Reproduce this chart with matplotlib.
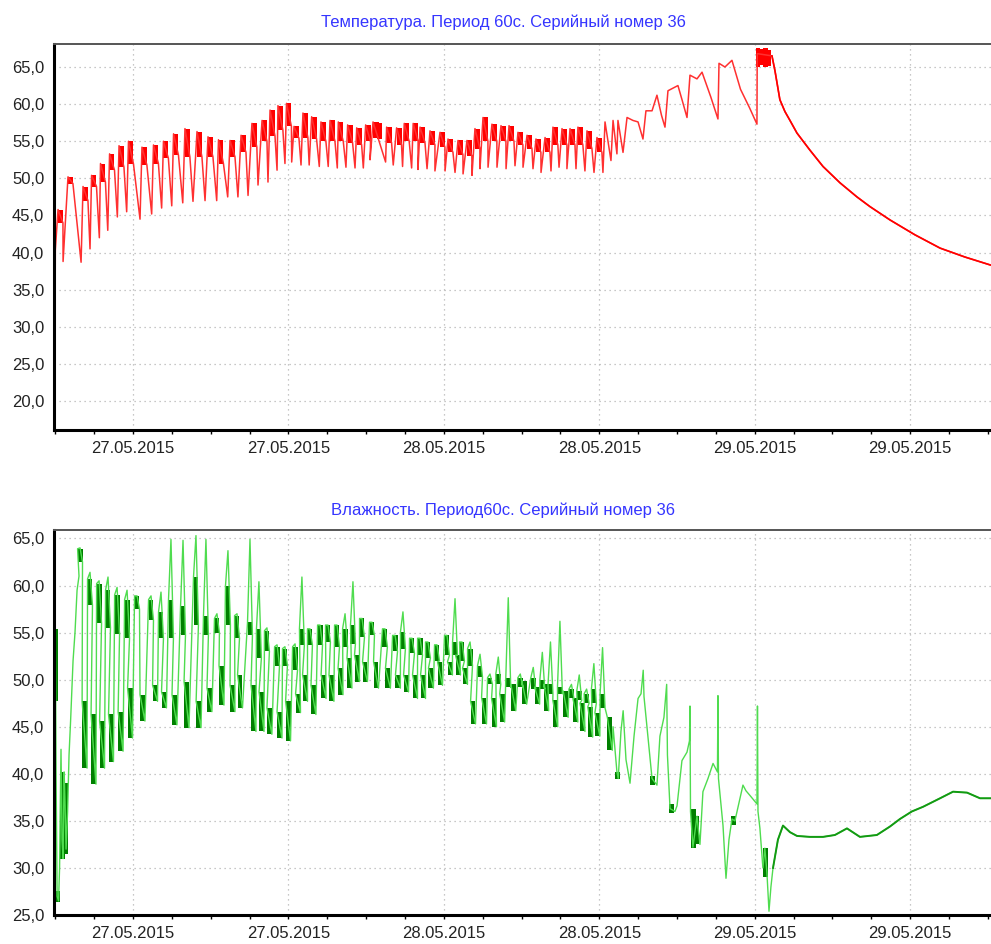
import matplotlib.pyplot as plt
from matplotlib.ticker import MultipleLocator, FuncFormatter
from datetime import datetime, timedelta

plt.rcParams['font.family'] = ['Liberation Sans', 'DejaVu Sans']

# time axis: hours from 27.05.2015 00:00
start = datetime(2015, 5, 27)
x_range = [-6.10, 66.24]

title_temp = 'Температура. Период 60с. Серийный номер 36'
title_hum = 'Влажность. Период60с. Серийный номер 36'

# ---------------- temperature ----------------
temp_lead_h = [-6.08, -6.04, -6.00, -5.90]
temp_lead_v = [16.8, 17.5, 40.3, 43.0]

# one row per heating cycle: top block start, block top, block bottom, dip time, dip value
tc_peak_h = [-5.79, -5.02, -3.86, -3.20, -2.51, -1.81, -1.08, -0.35, 0.69, 1.58,
             2.35, 3.13, 4.01, 4.94, 5.79, 6.60, 7.49, 8.34, 9.18, 9.96,
             10.58, 11.19, 11.85, 12.43, 13.12, 13.79, 14.51, 15.21, 15.85, 16.57,
             17.27, 17.96, 18.53, 19.58, 20.35, 20.94, 21.63, 22.16, 22.93, 23.70,
             24.32, 25.09, 25.78, 26.40, 27.02, 27.71, 28.41, 29.03, 29.72, 30.42,
             31.11, 31.81, 32.42, 33.12, 33.74, 34.35, 35.05, 35.82]
tc_hi = [45.8, 50.2, 48.9, 50.4, 52.0, 53.3, 54.4, 55.0, 54.2, 54.5,
         55.0, 56.0, 56.7, 56.3, 55.6, 55.2, 55.1, 55.8, 57.4, 57.8,
         59.2, 59.8, 60.1, 57.0, 58.8, 58.3, 57.6, 57.8, 57.6, 57.2,
         56.8, 57.2, 57.6, 56.9, 56.8, 57.4, 57.4, 56.9, 56.4, 56.2,
         55.3, 55.1, 55.1, 56.7, 58.2, 57.3, 57.1, 57.1, 56.2, 55.8,
         55.3, 55.5, 56.9, 56.7, 56.7, 56.9, 56.4, 55.5]
tc_lo = [44.0, 49.3, 47.0, 48.9, 49.5, 51.1, 51.5, 52.0, 51.8, 52.0,
         52.7, 53.1, 52.9, 52.9, 52.9, 52.0, 52.9, 53.5, 54.2, 55.0,
         55.7, 56.5, 57.0, 55.4, 55.5, 55.3, 55.0, 55.0, 55.0, 54.8,
         54.5, 55.0, 55.5, 54.8, 54.5, 55.0, 55.0, 54.8, 54.5, 54.2,
         53.5, 53.2, 53.0, 54.0, 55.0, 55.0, 55.0, 55.0, 54.5, 54.0,
         53.5, 53.5, 54.5, 54.5, 54.5, 54.5, 54.0, 53.5]
tc_dip_h = [-5.40, -4.01, -3.32, -2.60, -1.95, -1.21, -0.49, 0.54, 1.44, 2.21,
            2.99, 3.84, 4.63, 5.56, 6.46, 7.31, 8.10, 8.88, 9.65, 10.42,
            11.12, 11.73, 12.25, 12.97, 13.60, 14.38, 15.07, 15.77, 16.44, 17.14,
            17.78, 18.30, 19.50, 20.09, 20.81, 21.51, 22.00, 22.70, 23.31, 24.09,
            24.86, 25.48, 26.17, 26.79, 27.41, 28.10, 28.80, 29.49, 30.11, 30.88,
            31.50, 32.27, 32.89, 33.50, 34.20, 34.89, 35.59, 36.28]
tc_dip = [38.8, 38.7, 40.5, 42.0, 43.0, 44.8, 45.5, 44.5, 45.2, 46.0,
          46.3, 46.7, 46.9, 47.0, 47.0, 47.5, 47.5, 47.7, 49.1, 49.5,
          51.1, 52.0, 52.2, 51.8, 51.8, 51.6, 51.6, 51.4, 51.5, 51.4,
          51.4, 52.5, 52.2, 51.8, 51.6, 51.4, 51.2, 51.3, 51.0, 51.0,
          50.8, 50.6, 50.4, 51.3, 51.5, 51.5, 51.3, 51.7, 51.5, 51.3,
          50.8, 51.0, 51.5, 51.3, 51.3, 51.0, 50.8, 50.8]

temp_tail_h = [36.44, 36.90, 37.06, 37.36, 37.44, 37.83, 38.14, 38.60, 38.99, 39.37,
               39.60, 40.07, 40.45, 40.80, 41.07, 41.30, 42.07, 42.40, 42.77, 43.00,
               43.54, 43.93, 44.60, 45.16, 45.24, 45.70, 46.24, 46.90, 47.60, 48.17,
               48.19, 49.33, 49.56, 49.94, 50.33, 50.72, 51.26, 52.26, 53.27, 54.58,
               55.89, 56.89, 58.44, 60.36, 62.31, 64.23, 66.24]
temp_tail_v = [57.6, 52.4, 57.8, 53.3, 57.8, 53.5, 58.2, 57.8, 57.6, 55.3,
               59.1, 59.1, 61.2, 58.5, 56.9, 61.8, 62.5, 60.5, 58.2, 63.9,
               63.4, 64.3, 61.0, 58.0, 65.5, 65.0, 65.9, 62.0, 59.5, 57.3,
               66.8, 66.5, 64.5, 60.6, 59.0, 57.8, 56.1, 53.8, 51.6, 49.4,
               47.5, 46.2, 44.4, 42.4, 40.6, 39.4, 38.3]

temp_xblk_h = [18.80, 19.05, 48.25, 48.55, 48.85, 49.10]
temp_xblk_lo = [55.5, 55.3, 65.0, 65.3, 65.0, 65.2]
temp_xblk_hi = [57.6, 57.4, 67.5, 67.4, 67.6, 67.3]

# ---------------- humidity ----------------
hum_lead_h = [-6.02, -5.98, -5.94, -5.86, -5.75, -5.67, -5.63, -5.56, -5.48, -5.40,
              -5.32, -5.25, -5.17, -5.05, -4.94, -4.82, -4.63, -4.48, -4.32, -4.17]
hum_lead_v = [56.8, 50.0, 40.0, 27.0, 26.5, 30.0, 35.0, 42.6, 33.0, 31.0,
              40.2, 37.0, 32.0, 36.0, 42.0, 45.6, 52.0, 55.0, 59.5, 61.0]

# one row per cycle: high block time, spike, high block top/bottom, low block time, low block top/bottom
hc_hi_h = [-4.09, -3.32, -2.62, -1.93, -1.23, -0.46, 0.31, 1.39, 2.16, 2.93,
           3.86, 4.86, 5.63, 6.48, 7.33, 8.03, 9.03, 9.72, 10.34, 11.12,
           11.73, 12.51, 13.04, 13.66, 14.44, 15.05, 15.75, 16.37, 16.98, 17.68,
           18.45, 19.45, 20.23, 20.84, 21.54, 22.16, 22.77, 23.47, 24.24, 24.86,
           25.40, 26.02, 26.79, 27.56, 28.20, 28.97, 29.90, 30.90, 31.60, 32.23,
           32.96, 33.85, 34.45, 35.02, 35.58, 36.25]
hc_spike = [64.0, 61.4, 60.5, 60.9, 59.8, 59.5, 58.9, 58.9, 59.3, 64.9,
            64.8, 65.3, 64.9, 57.0, 63.7, 57.0, 64.9, 60.4, 55.5, 53.7,
            53.5, 53.8, 60.9, 55.4, 55.8, 55.8, 55.8, 57.0, 60.4, 56.5,
            56.1, 55.4, 54.7, 57.2, 54.4, 54.4, 54.0, 53.7, 54.7, 58.6,
            54.0, 54.0, 52.7, 50.6, 52.4, 58.7, 50.6, 51.3, 52.9, 54.0,
            56.2, 49.5, 50.5, 49.0, 51.7, 53.4]
hc_hhi = [63.9, 60.7, 60.2, 59.5, 59.0, 58.5, 58.9, 58.5, 57.2, 58.5,
          57.8, 60.9, 56.8, 56.5, 60.0, 56.8, 56.1, 55.4, 55.2, 53.5,
          53.3, 53.5, 55.4, 55.4, 55.8, 55.8, 55.8, 55.4, 55.8, 56.5,
          56.1, 55.4, 54.7, 55.1, 54.4, 54.4, 54.0, 53.7, 54.7, 54.0,
          54.0, 53.3, 51.5, 50.2, 50.6, 50.2, 50.2, 50.2, 50.0, 49.5,
          49.2, 49.0, 48.8, 48.5, 49.0, 48.5]
hc_hlo = [62.5, 57.9, 56.0, 55.5, 54.8, 54.4, 57.5, 56.3, 54.4, 54.4,
          54.7, 55.8, 54.7, 55.0, 55.8, 54.4, 54.7, 52.3, 53.0, 51.5,
          51.5, 51.0, 53.7, 53.7, 53.7, 54.0, 53.5, 53.5, 53.8, 54.5,
          54.7, 53.5, 53.0, 53.3, 52.8, 52.6, 52.3, 52.0, 52.6, 52.6,
          52.0, 51.5, 50.3, 49.5, 49.5, 49.2, 49.2, 49.0, 49.0, 48.5,
          48.5, 48.0, 47.8, 47.5, 47.5, 47.0]
hc_lo_h = [-3.74, -3.05, -2.39, -1.70, -0.96, -0.23, 0.73, 1.70, 2.39, 3.20,
           4.13, 5.06, 5.90, 6.83, 7.68, 8.26, 9.30, 9.92, 10.53, 11.31,
           11.97, 12.74, 13.28, 13.93, 14.71, 15.32, 16.02, 16.71, 17.29, 17.91,
           18.76, 19.68, 20.45, 21.08, 21.77, 22.39, 23.00, 23.70, 24.47, 25.09,
           25.63, 26.25, 27.10, 27.87, 28.50, 29.36, 30.20, 31.20, 31.90, 32.60,
           33.40, 34.15, 34.70, 35.30, 35.85, 36.81]
hc_lhi = [47.7, 46.3, 45.6, 46.3, 46.6, 49.1, 48.4, 49.4, 48.7, 48.4,
          49.8, 47.7, 49.1, 51.5, 49.4, 50.5, 49.4, 48.7, 47.0, 46.6,
          47.7, 48.5, 50.5, 49.4, 50.5, 50.5, 51.2, 52.3, 52.6, 51.9,
          51.9, 51.2, 50.5, 50.5, 50.5, 50.5, 51.2, 51.9, 51.9, 52.6,
          51.2, 47.7, 48.1, 48.0, 48.5, 49.5, 49.9, 49.2, 49.5, 47.8,
          48.8, 48.0, 47.5, 47.1, 46.5, 46.0]
hc_llo = [40.6, 38.9, 40.6, 41.3, 42.4, 43.8, 45.6, 47.7, 47.0, 45.2,
          44.9, 44.9, 46.6, 47.3, 46.6, 47.0, 44.5, 44.5, 44.2, 43.8,
          43.5, 46.5, 47.7, 46.3, 48.0, 47.7, 48.4, 49.1, 49.8, 49.8,
          49.1, 49.1, 49.1, 48.7, 48.0, 48.0, 49.1, 49.4, 50.5, 50.5,
          49.5, 45.3, 45.3, 45.0, 45.5, 46.7, 47.4, 47.4, 46.7, 45.0,
          46.0, 45.5, 44.5, 43.9, 44.0, 42.5]

hum_tail_h = [37.06, 37.36, 37.46, 37.67, 37.84, 38.06, 38.37, 38.68, 38.99, 39.22,
              39.39, 39.45, 39.78, 40.07, 40.45, 40.68, 40.99, 41.20, 41.26, 41.46,
              41.84, 42.00, 42.38, 42.77, 42.96, 43.00, 43.04, 43.23, 43.54, 43.77,
              44.00, 44.39, 44.78, 45.12, 45.16, 45.20, 45.55, 45.78, 46.01, 46.24,
              46.47, 47.09, 47.32, 47.63, 48.17, 48.21, 48.25, 48.40, 48.63, 48.78,
              48.94, 49.10, 49.25, 49.41, 49.79, 50.18, 50.72, 51.26, 52.26, 53.27,
              54.19, 55.12, 56.12, 57.43, 58.44, 59.21, 60.13, 61.00, 62.31, 63.31,
              64.39, 65.39, 66.24]
hum_tail_v = [45.0, 40.2, 39.5, 44.5, 46.7, 41.5, 39.0, 44.0, 48.0, 48.5,
              51.0, 48.2, 43.6, 39.5, 38.8, 44.0, 46.0, 49.5, 42.0, 36.3,
              36.0, 36.6, 41.4, 42.3, 43.5, 47.2, 36.0, 32.2, 35.5, 32.5,
              38.1, 39.5, 41.1, 40.2, 48.3, 39.5, 34.5, 28.9, 33.0, 35.2,
              35.0, 38.8, 38.2, 37.7, 36.8, 47.2, 36.0, 34.2, 30.0, 32.1,
              29.5, 25.4, 28.0, 30.0, 33.0, 34.5, 33.8, 33.4, 33.3, 33.3,
              33.5, 34.2, 33.3, 33.5, 34.4, 35.2, 36.0, 36.5, 37.4, 38.1,
              38.0, 37.4, 37.4]

hum_xblk_h = [-6.00, -5.80, -5.45, -5.20, 37.40, 40.10, 41.60, 43.25, 43.50, 46.35, 48.80]
hum_xblk_lo = [47.7, 26.4, 31.0, 31.5, 39.5, 38.8, 35.8, 32.1, 32.5, 34.6, 29.0]
hum_xblk_hi = [55.4, 27.5, 40.2, 39.0, 40.2, 39.8, 36.8, 36.3, 35.5, 35.5, 32.1]

blk_w = 0.38


def date_label(h, pos):
    return (start + timedelta(hours=h)).strftime('%d.%m.%Y')


def comma_label(v, pos):
    return f'{v:.1f}'.replace('.', ',')


def style_axes(ax, ylim):
    ax.set_xlim(x_range)
    ax.set_ylim(ylim)
    ax.xaxis.set_major_locator(MultipleLocator(12))
    ax.xaxis.set_minor_locator(MultipleLocator(3))
    ax.xaxis.set_major_formatter(FuncFormatter(date_label))
    ax.yaxis.set_major_locator(MultipleLocator(5))
    ax.yaxis.set_major_formatter(FuncFormatter(comma_label))
    ax.grid(True, which='major', color='#b5b5b5', linestyle=(0, (1, 3)), lw=0.9)
    ax.set_axisbelow(True)
    ax.tick_params(axis='y', length=0, pad=7, labelsize=12, labelcolor='#222222')
    ax.tick_params(axis='x', which='both', length=3, width=1, pad=5,
                   labelsize=12, labelcolor='#222222')
    ax.spines['left'].set_linewidth(2.2)
    ax.spines['bottom'].set_linewidth(2.2)
    ax.spines['top'].set_linewidth(1.4)
    ax.spines['top'].set_color('#555555')
    ax.spines['right'].set_visible(False)


fig = plt.figure(figsize=(9.91, 9.44), dpi=100)
ax1 = fig.add_axes([0.0545, 0.5445, 0.9455, 0.4089])
ax2 = fig.add_axes([0.0545, 0.0307, 0.9455, 0.4079])

# temperature line from cycle rows
tx, ty = list(temp_lead_h), list(temp_lead_v)
for tp, hi, lo, td, dv in zip(tc_peak_h, tc_hi, tc_lo, tc_dip_h, tc_dip):
    tx += [tp, tp + blk_w, td]
    ty += [hi, lo, dv]
tx += temp_tail_h
ty += temp_tail_v
ax1.plot(tx, ty, color='#ff3030', lw=1.1)
k = tx.index(49.33)
ax1.plot(tx[k:], ty[k:], color='#ff0000', lw=1.2)
ax1.bar(tc_peak_h, [h - l for h, l in zip(tc_hi, tc_lo)], bottom=tc_lo,
        width=blk_w, align='edge', color='#ff0000', lw=0)
ax1.bar(temp_xblk_h, [h - l for h, l in zip(temp_xblk_hi, temp_xblk_lo)],
        bottom=temp_xblk_lo, width=blk_w, color='#ff0000', lw=0)
style_axes(ax1, (16.1, 68.1))

# humidity line from cycle rows
hx, hy = list(hum_lead_h), list(hum_lead_v)
for th, sp, hh, hl, tl, lh, ll in zip(hc_hi_h, hc_spike, hc_hhi, hc_hlo,
                                      hc_lo_h, hc_lhi, hc_llo):
    hx += [th - blk_w / 2, th, th + blk_w / 2, tl - blk_w / 2, tl + blk_w / 2]
    hy += [hh, sp, hl, lh, ll]
hx += hum_tail_h
hy += hum_tail_v
ax2.plot(hx, hy, color='#4fdc4f', lw=1.0)
k = hx.index(49.41)
ax2.plot(hx[k:], hy[k:], color='#139a13', lw=1.4)
ax2.bar(hc_hi_h, [h - l for h, l in zip(hc_hhi, hc_hlo)], bottom=hc_hlo,
        width=blk_w, color='#008000', lw=0)
ax2.bar(hc_lo_h, [h - l for h, l in zip(hc_lhi, hc_llo)], bottom=hc_llo,
        width=blk_w, color='#008000', lw=0)
ax2.bar(hum_xblk_h, [h - l for h, l in zip(hum_xblk_hi, hum_xblk_lo)],
        bottom=hum_xblk_lo, width=blk_w, color='#008000', lw=0)
style_axes(ax2, (25.0, 65.9))

fig.text(0.5076, 0.9767, title_temp, ha='center', va='center',
         color='#3535ff', fontsize=12)
fig.text(0.5076, 0.4597, title_hum, ha='center', va='center',
         color='#3535ff', fontsize=12)

plt.savefig('out.png', dpi=100)
